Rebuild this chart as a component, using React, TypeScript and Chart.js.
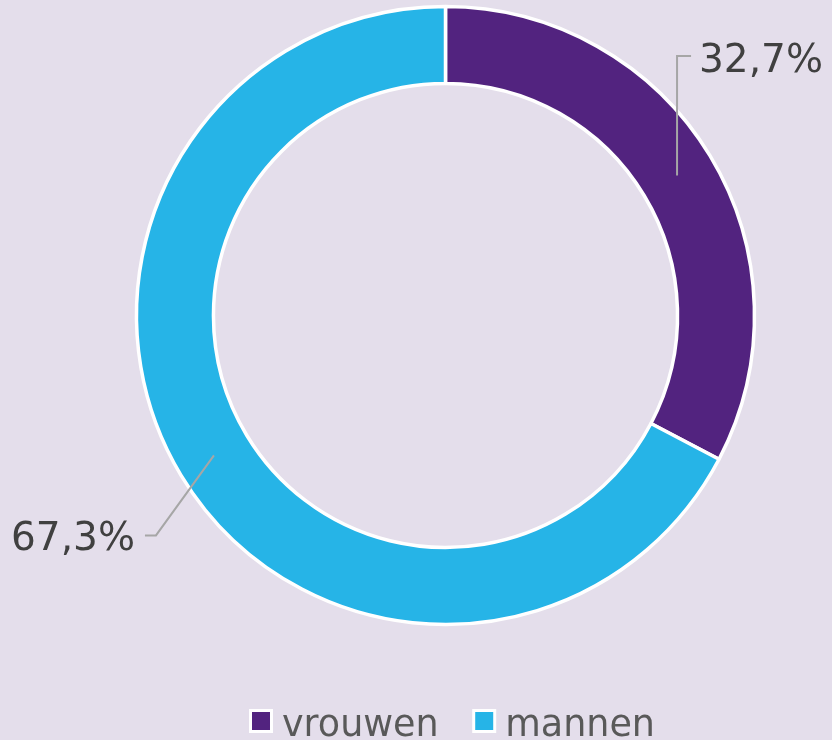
import React, { useEffect, useRef } from "react";
import { Chart, registerables } from "chart.js";

Chart.register(...registerables);

const categories = ["vrouwen", "mannen"];
const shares = [32.7, 67.3];
const shareLabels = ["32,7%", "67,3%"];
const colors = ["#52237F", "#26B4E7"];

const BG = "#E4DEEB";
const FONT = '"DejaVu Sans", Verdana, sans-serif';

const labelPlugin = {
  id: "labelPlugin",
  afterDraw(chart: any) {
    const ctx = chart.ctx as CanvasRenderingContext2D;
    const meta = chart.getDatasetMeta(0);
    // label layout relative to the mid-ring anchor of each slice
    const layout = [
      { elbowDx: 0, elbowDy: -119.5, endDx: 14, textGap: 8, baseDy: 16, align: "left" },
      { elbowDx: -58, elbowDy: 80, endDx: -11, textGap: -10, baseDy: 14.5, align: "right" },
    ];
    ctx.save();
    meta.data.forEach((arc: any, i: number) => {
      const p = arc.getProps(["x", "y", "startAngle", "endAngle", "innerRadius", "outerRadius"], true);
      const mid = (p.startAngle + p.endAngle) / 2;
      const r = (p.innerRadius + p.outerRadius) / 2;
      const ax = p.x + Math.cos(mid) * r;
      const ay = p.y + Math.sin(mid) * r;
      const L = layout[i];
      const ex = ax + L.elbowDx;
      const ey = ay + L.elbowDy;
      const tx = ex + L.endDx;
      ctx.strokeStyle = "#A6A6A6";
      ctx.lineWidth = 2;
      ctx.beginPath();
      ctx.moveTo(ax, ay);
      ctx.lineTo(ex, ey);
      ctx.lineTo(tx, ey);
      ctx.stroke();
      ctx.fillStyle = "#404040";
      ctx.font = `39px ${FONT}`;
      ctx.textBaseline = "alphabetic";
      ctx.textAlign = L.align as CanvasTextAlign;
      ctx.fillText(shareLabels[i], tx + L.textGap, ey + L.baseDy);
    });

    // legend
    const area = chart.chartArea;
    const cx = (area.left + area.right) / 2;
    ctx.font = `36.5px ${FONT}`;
    ctx.textAlign = "left";
    const box = 21;
    const boxTextGap = 10.5;
    const itemGap = 35;
    let x = cx - 195;
    const boxY = 710.5;
    const baseY = 735.5;
    categories.forEach((c, i) => {
      ctx.fillStyle = colors[i];
      ctx.fillRect(x, boxY, box, box);
      ctx.strokeStyle = "#FFFFFF";
      ctx.lineWidth = 3;
      ctx.strokeRect(x, boxY, box, box);
      const tx = x + box + boxTextGap;
      ctx.fillStyle = "#595959";
      ctx.fillText(c, tx, baseY);
      x = tx + ctx.measureText(c).width + itemGap;
    });
    ctx.restore();
  },
};

export default function App() {
  const ref = useRef<HTMLCanvasElement | null>(null);
  useEffect(() => {
    if (!ref.current) return;
    const chart = new Chart(ref.current, {
      type: "doughnut",
      data: {
        labels: categories,
        datasets: [
          {
            data: shares,
            backgroundColor: colors,
            borderColor: "#FFFFFF",
            borderWidth: 3.5,
            hoverOffset: 0,
          },
        ],
      },
      options: {
        responsive: false,
        animation: false,
        radius: 309,
        cutout: "75.1%",
        layout: { padding: { left: 59, right: 0, top: 0, bottom: 109 } },
        plugins: {
          legend: { display: false },
          tooltip: { enabled: false },
        },
      } as any,
      plugins: [labelPlugin],
    });
    return () => chart.destroy();
  }, []);
  return (
    <div
      style={{
        position: "fixed",
        left: 0,
        top: 0,
        width: 832,
        height: 740,
        background: BG,
      }}
    >
      <canvas ref={ref} width={832} height={740} style={{ display: "block" }} />
    </div>
  );
}
